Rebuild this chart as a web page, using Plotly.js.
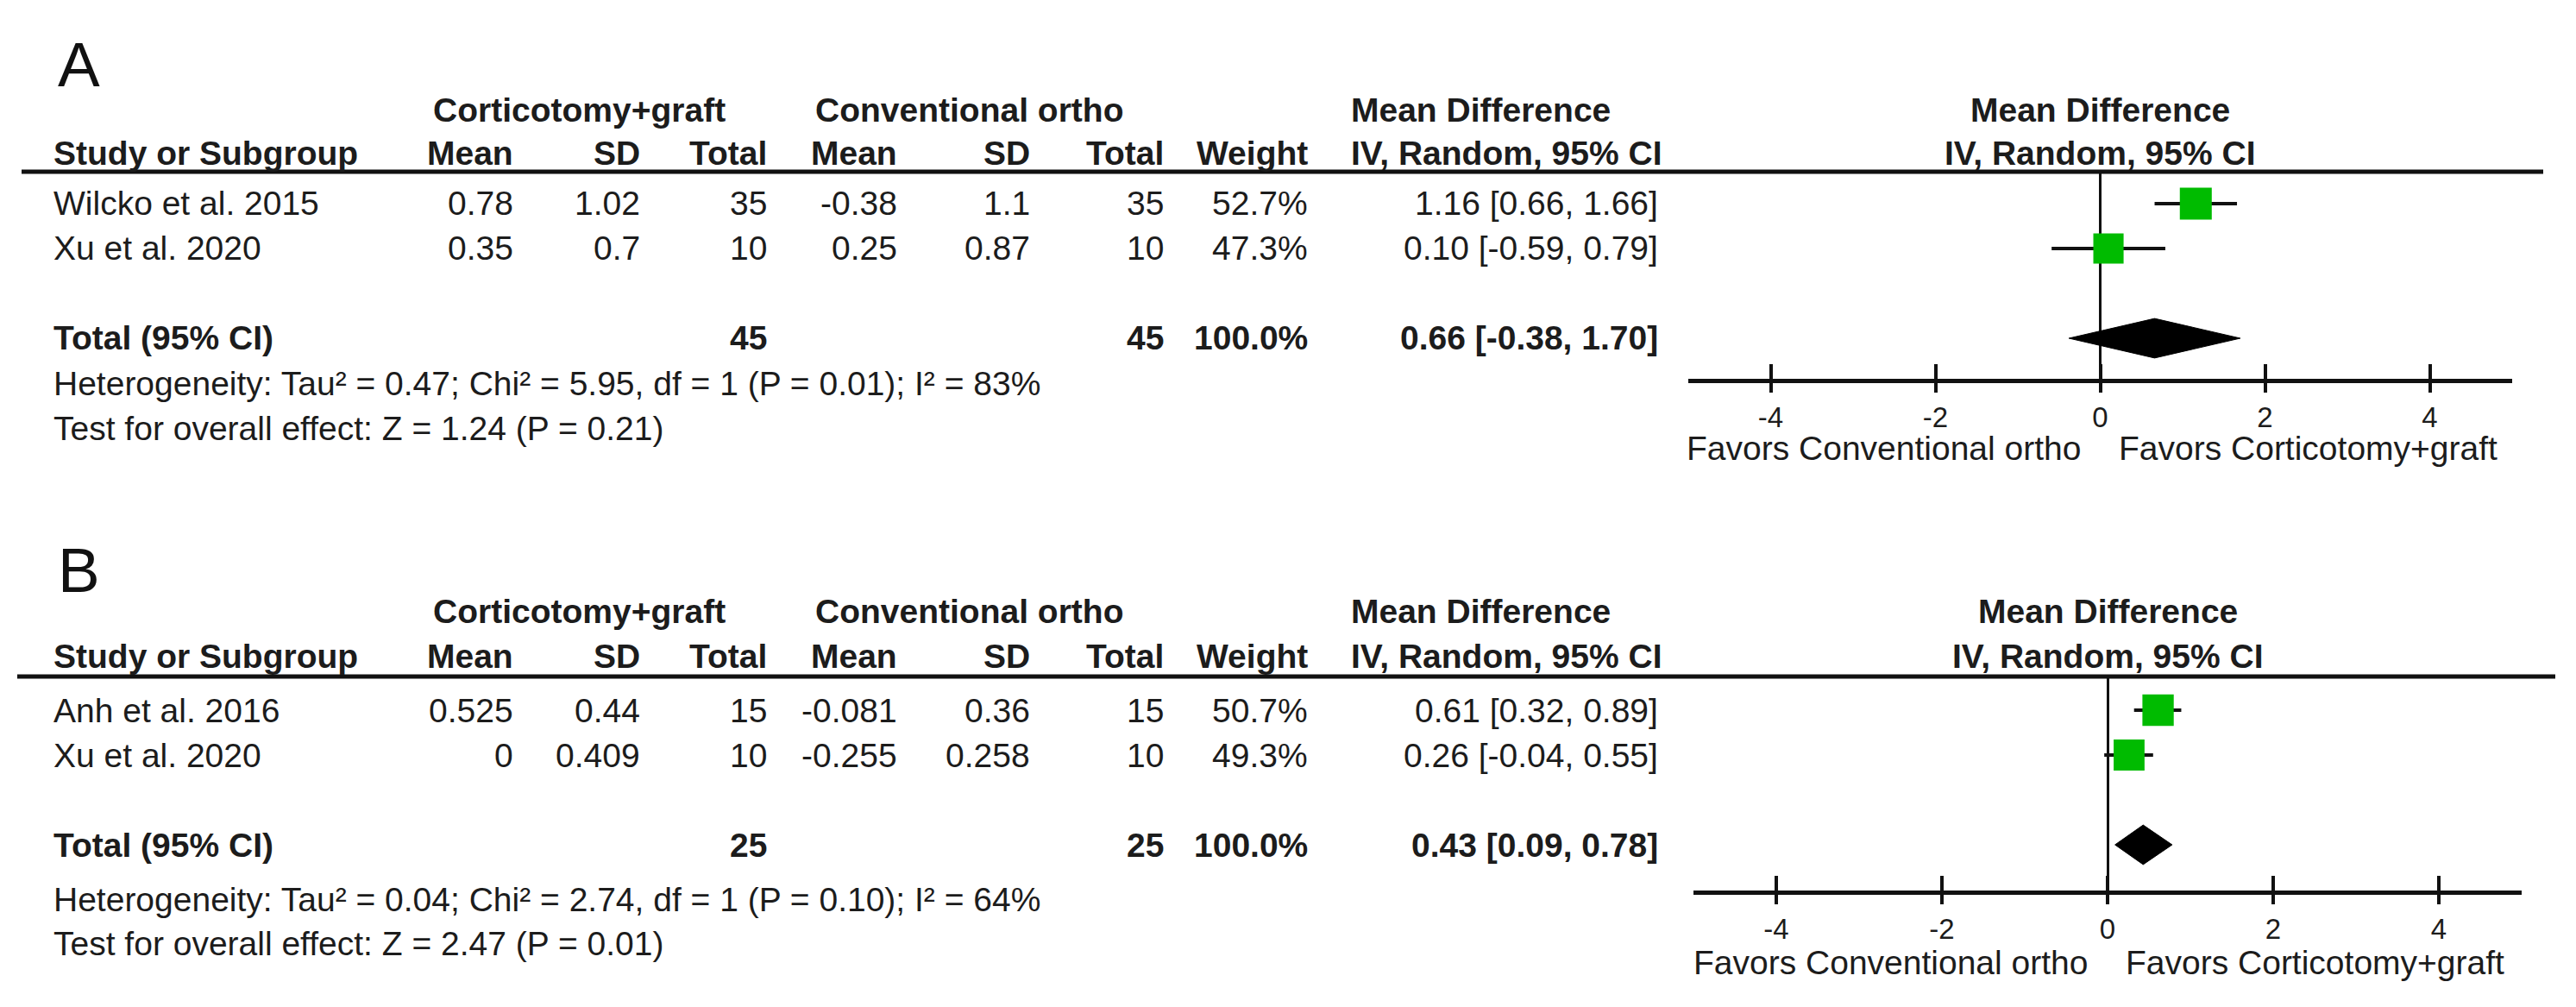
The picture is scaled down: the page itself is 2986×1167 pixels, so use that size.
<!DOCTYPE html>
<html>
<head>
<meta charset="utf-8">
<script src="https://cdn.plot.ly/plotly-3.0.1.min.js"></script>
<style>html,body{margin:0;padding:0;background:#fff;}#chart{width:2986px;height:1167px;}</style>
</head>
<body>
<div id="chart"></div>
<script>
// ---------------- DATA ----------------
const groupExp = 'Corticotomy+graft';
const groupCtl = 'Conventional ortho';
const favorsLeft = 'Favors Conventional ortho';
const favorsRight = 'Favors Corticotomy+graft';
const xTickVals = [-4, -2, 0, 2, 4];
const xRange = [-5, 5];

// Panel A
const studiesA = ['Wilcko et al. 2015', 'Xu et al. 2020'];
const expMeanA = [0.78, 0.35];
const expSdA = [1.02, 0.7];
const expNA = [35, 10];
const ctlMeanA = [-0.38, 0.25];
const ctlSdA = [1.1, 0.87];
const ctlNA = [35, 10];
const weightA = [52.7, 47.3];
const mdA = [1.16, 0.10];
const loA = [0.66, -0.59];
const hiA = [1.66, 0.79];
const totalExpNA = 45, totalCtlNA = 45, totalWeightA = 100.0;
const pooledA = [0.66, -0.38, 1.70]; // MD, lower, upper
const hetA = 'Heterogeneity: Tau² = 0.47; Chi² = 5.95, df = 1 (P = 0.01); I² = 83%';
const testA = 'Test for overall effect: Z = 1.24 (P = 0.21)';

// Panel B
const studiesB = ['Anh et al. 2016', 'Xu et al. 2020'];
const expMeanB = [0.525, 0];
const expSdB = [0.44, 0.409];
const expNB = [15, 10];
const ctlMeanB = [-0.081, -0.255];
const ctlSdB = [0.36, 0.258];
const ctlNB = [15, 10];
const weightB = [50.7, 49.3];
const mdB = [0.61, 0.26];
const loB = [0.32, -0.04];
const hiB = [0.89, 0.55];
const totalExpNB = 25, totalCtlNB = 25, totalWeightB = 100.0;
const pooledB = [0.43, 0.09, 0.78];
const hetB = 'Heterogeneity: Tau² = 0.04; Chi² = 2.74, df = 1 (P = 0.10); I² = 64%';
const testB = 'Test for overall effect: Z = 2.47 (P = 0.01)';

// ---------------- LAYOUT HELPERS ----------------
const W = 2986, H = 1167;
const px = x => x / W;
const py = y => 1 - y / H;
const FONT = 'Liberation Sans, Arial, Helvetica, sans-serif';
const TXT = '#1c1c1c';
const LINE = '#111111';
const FS = 39;

const cols = {
  study: 61, expMean: 596, expSd: 743, expN: 890,
  ctlMean: 1041, ctlSd: 1195, ctlN: 1350, weight: 1517,
  ci: 1923, mdHdr: 1565, grpExp: 501, grpCtl: 944
};

const panels = [
  { label: 'A', xDom: [1957, 2912], r0: 184, rowH: 52, lineY: 199, axisY: 439,
    grpY: 127, hdrY: 177, hetY: 444, testY: 497, favY: 519, labelY: 75, lineX: [25, 2948],
    studies: studiesA, expMean: expMeanA, expSd: expSdA, expN: expNA,
    ctlMean: ctlMeanA, ctlSd: ctlSdA, ctlN: ctlNA, weight: weightA,
    md: mdA, lo: loA, hi: hiA, totExp: totalExpNA, totCtl: totalCtlNA, totW: totalWeightA,
    pooled: pooledA, het: hetA, test: testA },
  { label: 'B', xDom: [1963, 2923], r0: 771, rowH: 52, lineY: 784, axisY: 1032,
    grpY: 708, hdrY: 760, hetY: 1042, testY: 1093, favY: 1115, labelY: 660, lineX: [20, 2962],
    studies: studiesB, expMean: expMeanB, expSd: expSdB, expN: expNB,
    ctlMean: ctlMeanB, ctlSd: ctlSdB, ctlN: ctlNB, weight: weightB,
    md: mdB, lo: loB, hi: hiB, totExp: totalExpNB, totCtl: totalCtlNB, totW: totalWeightB,
    pooled: pooledB, het: hetB, test: testB }
];

const fmtCI = (m, l, h) => m.toFixed(2) + ' [' + l.toFixed(2) + ', ' + h.toFixed(2) + ']';

const data = [];
const layout = {
  width: W, height: H,
  margin: { l: 0, r: 0, t: 0, b: 0 },
  paper_bgcolor: '#ffffff', plot_bgcolor: 'rgba(0,0,0,0)',
  showlegend: false,
  font: { family: FONT, color: TXT, size: FS },
  annotations: [], shapes: []
};

function ann(text, x, y, xanchor, opts) {
  const a = Object.assign({
    text: text, x: x, y: y, xref: 'paper', yref: 'paper',
    xanchor: xanchor, yanchor: 'middle', showarrow: false, borderpad: 0,
    font: { family: FONT, size: FS, color: TXT }
  }, opts || {});
  layout.annotations.push(a);
}
const B = s => '<b>' + s + '</b>';

panels.forEach((p, i) => {
  const xa = i === 0 ? 'x' : 'x2';
  const ya = i === 0 ? 'y' : 'y2';
  const xaOver = i === 0 ? 'x3' : 'x4';
  const xKey = i === 0 ? 'xaxis' : 'xaxis2';
  const yKey = i === 0 ? 'yaxis' : 'yaxis2';
  const xOverKey = i === 0 ? 'xaxis3' : 'xaxis4';

  const rowOf = y => (y - p.r0) / p.rowH;
  const studyRows = p.studies.map((_, k) => k + 1);
  const totalRow = p.studies.length + 2;
  const diamondHalf = 0.44;

  // axes
  layout[xKey] = {
    domain: [px(p.xDom[0]), px(p.xDom[1])], range: xRange, anchor: ya,
    tickmode: 'array', tickvals: xTickVals, ticktext: xTickVals.map(String),
    ticks: 'outside', ticklen: 11, tickwidth: 4, tickcolor: LINE,
    tickfont: { family: FONT, size: 33, color: TXT },
    showline: true, linewidth: 5, linecolor: LINE,
    showgrid: false, zeroline: true, zerolinewidth: 3, zerolinecolor: LINE,
    fixedrange: true
  };
  layout[xOverKey] = {
    overlaying: xa, anchor: ya, side: 'bottom', range: xRange,
    tickmode: 'array', tickvals: xTickVals,
    ticks: 'inside', ticklen: 17, tickwidth: 4, tickcolor: LINE,
    showticklabels: false, showline: false, showgrid: false, zeroline: false,
    fixedrange: true
  };
  layout[yKey] = {
    domain: [py(p.axisY), py(p.lineY)],
    range: [rowOf(p.axisY), rowOf(p.lineY)],
    visible: false, showgrid: false, zeroline: false, fixedrange: true
  };

  // study squares with CI lines
  data.push({
    type: 'scatter', mode: 'markers', xaxis: xa, yaxis: ya,
    x: p.md, y: studyRows,
    marker: { symbol: 'square', color: '#00bb00', opacity: 1,
      size: p.weight.map(w => 5.1 * Math.sqrt(w)), line: { width: 0 } },
    error_x: { type: 'data', symmetric: false,
      array: p.hi.map((h, k) => h - p.md[k]), arrayminus: p.lo.map((l, k) => p.md[k] - l),
      thickness: 4, width: 0, color: LINE },
    hoverinfo: 'skip', cliponaxis: false
  });
  // pooled diamond
  const [pm, pl, ph] = p.pooled;
  data.push({
    type: 'scatter', mode: 'lines', xaxis: xa, yaxis: ya,
    x: [pl, pm, ph, pm, pl],
    y: [totalRow, totalRow - diamondHalf, totalRow, totalRow + diamondHalf, totalRow],
    fill: 'toself', fillcolor: '#000000', line: { color: '#000000', width: 1 },
    hoverinfo: 'skip'
  });
  // dummy trace for overlay tick axis
  data.push({
    type: 'scatter', mode: 'markers', xaxis: xaOver, yaxis: ya,
    x: [pm], y: [totalRow], marker: { opacity: 0, size: 1 }, hoverinfo: 'skip'
  });

  // header rule
  layout.shapes.push({ type: 'line', xref: 'paper', yref: 'paper',
    x0: px(p.lineX[0]), x1: px(p.lineX[1]), y0: py(p.lineY), y1: py(p.lineY),
    line: { color: LINE, width: 5 } });

  // panel label
  ann(p.label, px(66), py(p.labelY), 'left', { font: { family: FONT, size: 73, color: '#111' } });

  // group headers
  ann(B(groupExp), px(cols.grpExp), py(p.grpY), 'left');
  ann(B(groupCtl), px(cols.grpCtl), py(p.grpY), 'left');
  ann(B('Mean Difference'), px(cols.mdHdr), py(p.grpY), 'left');
  // column headers
  ann(B('Study or Subgroup'), px(cols.study), py(p.hdrY), 'left');
  ann(B('Mean'), px(cols.expMean), py(p.hdrY), 'right');
  ann(B('SD'), px(cols.expSd), py(p.hdrY), 'right');
  ann(B('Total'), px(cols.expN), py(p.hdrY), 'right');
  ann(B('Mean'), px(cols.ctlMean), py(p.hdrY), 'right');
  ann(B('SD'), px(cols.ctlSd), py(p.hdrY), 'right');
  ann(B('Total'), px(cols.ctlN), py(p.hdrY), 'right');
  ann(B('Weight'), px(cols.weight), py(p.hdrY), 'right');
  ann(B('IV, Random, 95% CI'), px(cols.mdHdr), py(p.hdrY), 'left');
  // plot headers centred on the axis
  ann(B('Mean Difference'), 0, py(p.grpY), 'center', { xref: xa });
  ann(B('IV, Random, 95% CI'), 0, py(p.hdrY), 'center', { xref: xa });

  // study rows (tied to y axis rows)
  p.studies.forEach((s, k) => {
    const r = studyRows[k];
    const o = { yref: ya };
    ann(s, px(cols.study), r, 'left', o);
    ann(String(p.expMean[k]), px(cols.expMean), r, 'right', o);
    ann(String(p.expSd[k]), px(cols.expSd), r, 'right', o);
    ann(String(p.expN[k]), px(cols.expN), r, 'right', o);
    ann(String(p.ctlMean[k]), px(cols.ctlMean), r, 'right', o);
    ann(String(p.ctlSd[k]), px(cols.ctlSd), r, 'right', o);
    ann(String(p.ctlN[k]), px(cols.ctlN), r, 'right', o);
    ann(p.weight[k].toFixed(1) + '%', px(cols.weight), r, 'right', o);
    ann(fmtCI(p.md[k], p.lo[k], p.hi[k]), px(cols.ci), r, 'right', o);
  });
  // total row
  const o = { yref: ya };
  ann(B('Total (95% CI)'), px(cols.study), totalRow, 'left', o);
  ann(B(String(p.totExp)), px(cols.expN), totalRow, 'right', o);
  ann(B(String(p.totCtl)), px(cols.ctlN), totalRow, 'right', o);
  ann(B(p.totW.toFixed(1) + '%'), px(cols.weight), totalRow, 'right', o);
  ann(B(fmtCI(pm, pl, ph)), px(cols.ci), totalRow, 'right', o);

  // footer
  ann(p.het, px(cols.study), py(p.hetY), 'left');
  ann(p.test, px(cols.study), py(p.testY), 'left');

  // favours labels
  ann(favorsLeft, 0, py(p.favY), 'right', { xref: xa, xshift: -22 });
  ann(favorsRight, 0, py(p.favY), 'left', { xref: xa, xshift: 20 });
});

Plotly.newPlot('chart', data, layout, { staticPlot: true, displayModeBar: false });
</script>
</body>
</html>
